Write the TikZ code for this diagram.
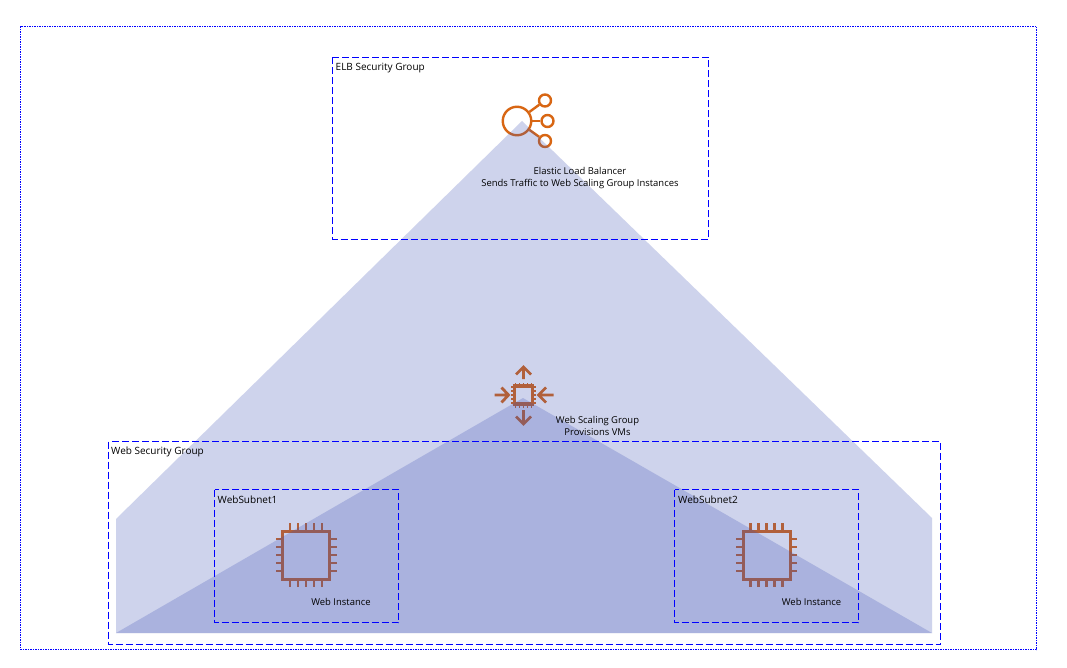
\documentclass[tikz,border=0pt]{standalone}
\usepackage{fontspec}
\setmainfont{Open Sans}
\definecolor{boxblue}{HTML}{0000FF}
\definecolor{wedge}{HTML}{3F51B5}
\definecolor{awsorange}{HTML}{D86613}
\definecolor{labelink}{HTML}{000000}
\tikzset{
  secbox/.style={draw=boxblue,line width=1pt,dash pattern=on 7pt off 3pt},
  outerbox/.style={draw=boxblue,line width=1pt,dash pattern=on 1.5pt off 1pt},
  wedgefill/.style={fill=wedge,fill opacity=.25,draw=none},
  icon/.style={draw=awsorange,line width=2.4pt,fill=none},
  iconthick/.style={draw=awsorange,line width=3pt,fill=none},
  pin/.style={draw=awsorange,line width=2.6pt},
  lbl/.style={font=\fontsize{9.45}{12.5}\selectfont,text=labelink,inner sep=0pt,align=center},
  grouplbl/.style={font=\fontsize{10}{12.5}\selectfont,text=labelink,inner sep=0pt,anchor=west},
  pics/chip/.style={code={
    \draw[iconthick] (-23.5,-24) rectangle (23.5,24);
    \foreach \d in {-16,-8,0,8,16}{
      \draw[pin] (\d,-24) -- (\d,-32);
      \draw[pin] (\d,24) -- (\d,32);
      \draw[pin] (-23.5,\d) -- (-30.5,\d);
      \draw[pin] (23.5,\d) -- (30.5,\d);
    }
  }}
}
\begin{document}
\begin{tikzpicture}[x=1pt,y=-1pt]
\useasboundingbox (0,0) rectangle (1067,668);
\fill[white] (0,0) rectangle (1067,668);
% icons beneath the translucent wedges
\pic at (306,555) {chip};
\pic at (766.5,555) {chip};
% load balancer icon
\node[circle,icon,minimum size=28.5pt,inner sep=0pt] (lbmain) at (517,121) {};
\node[circle,icon,minimum size=12pt,inner sep=0pt] (lbtop) at (545,100.5) {};
\node[circle,icon,minimum size=12pt,inner sep=0pt] (lbmid) at (547.5,121) {};
\node[circle,icon,minimum size=12pt,inner sep=0pt] (lbbot) at (545,141) {};
\draw[icon] (lbmain) -- (lbtop);
\draw[icon] (lbmain) -- (lbmid);
\draw[icon] (lbmain) -- (lbbot);
% scaling group icon
\begin{scope}[shift={(523.5,395)}]
  \draw[draw=awsorange,line width=3.2pt] (-9,-9) rectangle (9,9);
  \foreach \d in {-8,-4,0,4,8}{
    \draw[awsorange,line width=1.8pt] (\d,-9) -- (\d,-12.5);
    \draw[awsorange,line width=1.8pt] (\d,9) -- (\d,12.5);
    \draw[awsorange,line width=1.8pt] (-9,\d) -- (-12.5,\d);
    \draw[awsorange,line width=1.8pt] (9,\d) -- (12.5,\d);
  }
  \draw[icon,line width=2.8pt,line join=miter] (0,-16) -- (0,-28) (-7.5,-20.5) -- (0,-28) -- (7.5,-20.5);
  \draw[icon,line width=2.8pt,line join=miter] (0,15) -- (0,29) (-7.5,21.5) -- (0,29) -- (7.5,21.5);
  \draw[icon,line width=2.8pt,line join=miter] (-29,0) -- (-15.5,0) (-22,-7.5) -- (-15,0) -- (-22,7.5);
  \draw[icon,line width=2.8pt,line join=miter] (30,0) -- (16,0) (22.5,-7.5) -- (15,0) -- (22.5,7.5);
\end{scope}
% wedges
\path[wedgefill] (116,519) -- (522,121) -- (932,518) -- (932,633) -- (116,633) -- cycle;
\path[wedgefill] (116,633) -- (523,398) -- (932,633) -- cycle;
% boxes
\draw[outerbox] (20.5,26.5) rectangle (1036.5,649.5);
\draw[secbox] (332.5,57.5) rectangle (708.5,239.5);
\draw[secbox] (108.5,441.5) rectangle (940.5,644.5);
\draw[secbox] (214.5,489.5) rectangle (398.5,622.5);
\draw[secbox] (674.5,489.5) rectangle (858.5,622.5);
% labels
\node[grouplbl] (elbsg) at (335.5,68) {ELB Security Group};
\node[grouplbl] (websg) at (111,452) {Web Security Group};
\node[grouplbl] (sub1) at (217.5,500) {WebSubnet1};
\node[grouplbl] (sub2) at (678,500) {WebSubnet2};
\node[lbl] (elbtxt) at (580,178) {Elastic Load Balancer\\Sends Traffic to Web Scaling Group Instances};
\node[lbl] (asgtxt) at (597.5,426) {Web Scaling Group\\Provisions VMs};
\node[lbl] (inst1) at (341,601.5) {Web Instance};
\node[lbl] (inst2) at (811.5,601.5) {Web Instance};
\end{tikzpicture}
\end{document}
